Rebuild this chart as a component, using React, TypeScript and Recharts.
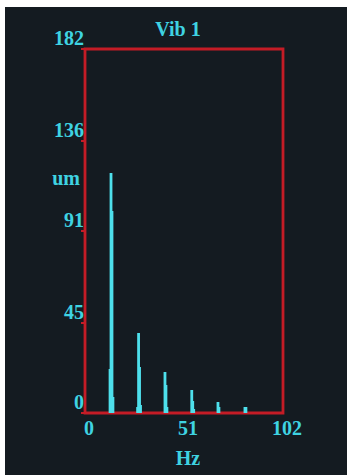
import React from 'react';
import { BarChart, Bar, XAxis, YAxis, ReferenceArea } from 'recharts';

const hz = [12.9, 13.4, 13.9, 14.4, 27.1, 27.6, 28.1, 28.6, 41.2, 41.7, 42.2, 55.0, 55.5, 56.0, 68.5, 69.0, 82.4, 82.9];
const amp = [22, 120, 101, 8, 3, 40, 23, 4, 20.5, 14, 3, 11.5, 6, 2, 5.5, 3, 3, 3];
const yTicks = [0, 45, 91, 136, 182];
const xTicks = [0, 51, 102];
const title = 'Vib 1';
const yUnit = 'um';
const xUnit = 'Hz';

const data = hz.map((h, i) => ({ hz: h, amp: amp[i] }));

const BG = '#141b21';
const RED = '#c41c26';
const CYAN = '#3fd3e2';
const BAR = '#4ee0ec';
const FONT = '"Liberation Serif", "DejaVu Serif", serif';

const YTick = (p: any) => (
  <g>
    <line x1={p.x} x2={p.x + 4} y1={p.y} y2={p.y} stroke={RED} strokeWidth={2} />
    <text x={p.x + 3} y={p.y - 11} textAnchor="end" dominantBaseline="central" fill={CYAN} fontSize={20} fontWeight="bold" fontFamily={FONT}>
      {p.payload.value}
    </text>
  </g>
);

const XTick = (p: any) => (
  <text x={p.x + 4} y={p.y + 15} textAnchor="middle" dominantBaseline="central" fill={CYAN} fontSize={20} fontWeight="bold" fontFamily={FONT}>
    {p.payload.value}
  </text>
);

const BarShape = (p: any) => {
  const w = 2.8;
  if (!p.height || p.height <= 0) return <g />;
  return <rect x={p.x + p.width / 2 - w / 2} y={p.y} width={w} height={p.height} fill={BAR} />;
};

export default function App() {
  return (
    <div style={{ position: 'absolute', left: 0, top: 0, width: 347, height: 476, background: '#fff' }}>
      <div style={{ position: 'absolute', left: 5, top: 7, width: 342, height: 468, background: BG }}>
        <BarChart width={342} height={468} data={data} margin={{ top: 42, right: 64, bottom: 0, left: 0 }}>
          <XAxis
            dataKey="hz"
            type="number"
            domain={[0, 102]}
            ticks={xTicks}
            height={62}
            axisLine={false}
            tickLine={false}
            tickSize={0}
            tickMargin={0}
            tick={XTick}
            interval={0}
            label={{
              content: (props: any) => {
                const vb = props.viewBox || { x: 80, y: 406, width: 198 };
                return (
                  <text x={vb.x + vb.width / 2 + 4} y={vb.y + 45} textAnchor="middle" dominantBaseline="central" fill={CYAN} fontSize={20} fontWeight="bold" fontFamily={FONT}>
                    {xUnit}
                  </text>
                );
              },
            }}
          />
          <YAxis
            type="number"
            domain={[0, 182]}
            ticks={yTicks}
            width={80}
            axisLine={false}
            tickLine={false}
            tickSize={4}
            tickMargin={0}
            tick={YTick}
            interval={0}
            label={{
              content: (props: any) => {
                const vb = props.viewBox || { x: 0, y: 42, width: 80 };
                return (
                  <text x={vb.x + vb.width - 5} y={vb.y + 129} textAnchor="end" dominantBaseline="central" fill={CYAN} fontSize={20} fontWeight="bold" fontFamily={FONT}>
                    {yUnit}
                  </text>
                );
              },
            }}
          />
          <ReferenceArea
            x1={0}
            x2={102}
            y1={0}
            y2={182}
            fill="none"
            stroke={RED}
            strokeWidth={2.8}
            ifOverflow="visible"
            label={{
              content: (props: any) => {
                const vb = props.viewBox || { x: 80, y: 42, width: 198 };
                return (
                  <text x={vb.x + vb.width / 2 - 6} y={vb.y - 20} textAnchor="middle" dominantBaseline="central" fill={CYAN} fontSize={20} fontWeight="bold" fontFamily={FONT}>
                    {title}
                  </text>
                );
              },
            }}
          />
          <Bar dataKey="amp" fill={BAR} shape={BarShape} isAnimationActive={false} />
        </BarChart>
      </div>
    </div>
  );
}
